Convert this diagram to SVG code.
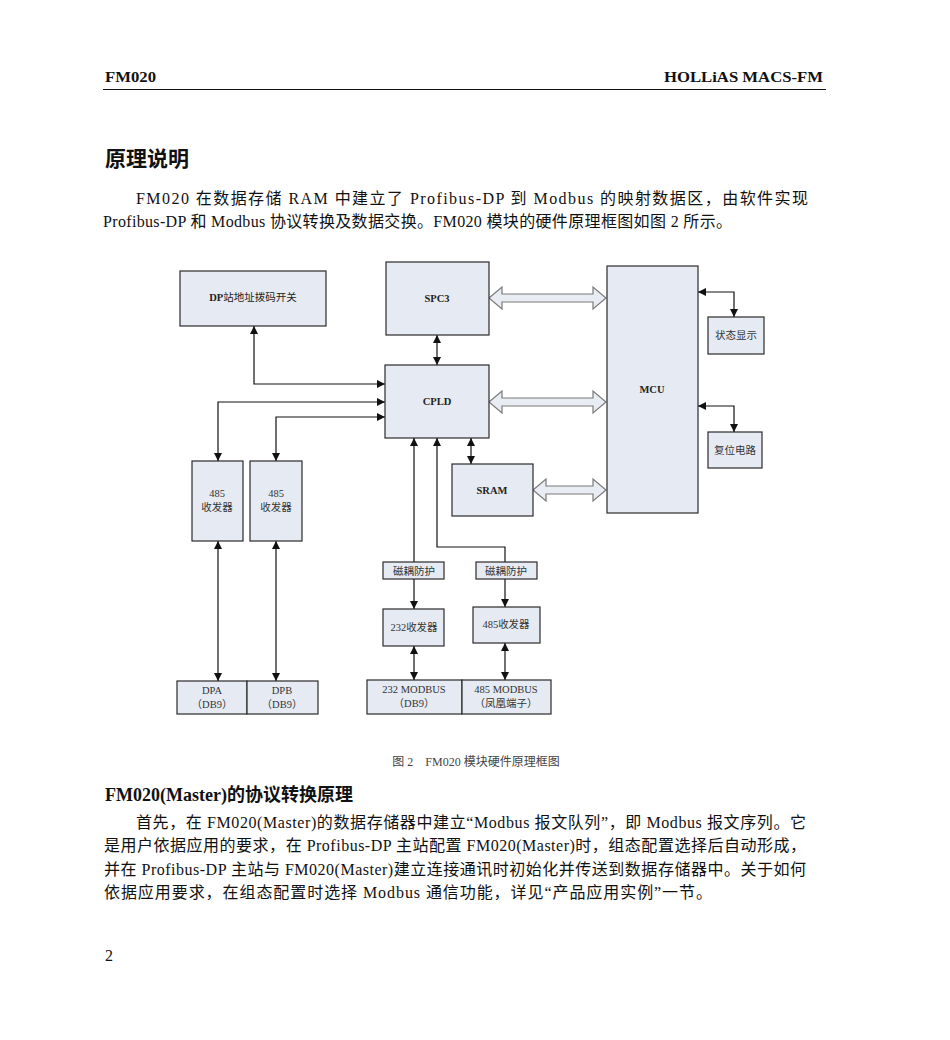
<svg xmlns="http://www.w3.org/2000/svg" width="950" height="1040" viewBox="0 0 950 1040">
<defs>
<style>
.bg{fill:#ffffff}
.box{fill:#e6ebf3;stroke:#2a2a2a;stroke-width:1.2}
.lbl{font-family:"Liberation Serif","Noto Sans CJK SC",serif;font-size:10.5px;fill:#333;text-anchor:middle}
.lblb{font-family:"Liberation Serif","Noto Sans CJK SC",serif;font-size:10.5px;fill:#222;text-anchor:middle;font-weight:bold}
.wire{fill:none;stroke:#111;stroke-width:1.2;marker-start:url(#ah);marker-end:url(#ah)}
.wire1{fill:none;stroke:#111;stroke-width:1.2}
.bus{fill:#e8ecf3;stroke:#7a7a7a;stroke-width:1.2}
.body{font-family:"Liberation Serif","Noto Sans CJK SC",serif;font-size:16px;fill:#111}
.hdr{font-family:"Liberation Serif","Noto Sans CJK SC",serif;font-size:15px;font-weight:bold;fill:#111}
.h1{font-family:"Liberation Serif","Noto Sans CJK SC",sans-serif;font-size:21px;font-weight:bold;fill:#111}
.h2{font-family:"Liberation Serif","Noto Sans CJK SC",serif;font-size:18px;font-weight:bold;fill:#111}
.cap{font-family:"Liberation Serif","Noto Sans CJK SC",serif;font-size:12px;fill:#444;text-anchor:middle}
</style>
<marker id="ah" viewBox="0 0 10 10" refX="10" refY="5" markerUnits="userSpaceOnUse" markerWidth="9" markerHeight="8" orient="auto-start-reverse">
<path d="M0,0 L10,5 L0,10 z" fill="#111"/>
</marker>
<marker id="ah1" viewBox="0 0 10 10" refX="10" refY="5" markerUnits="userSpaceOnUse" markerWidth="9" markerHeight="8" orient="auto">
<path d="M0,0 L10,5 L0,10 z" fill="#111"/>
</marker>
</defs>
<rect class="bg" x="0" y="0" width="950" height="1040"/>

<g id="page-text">
<text class="hdr" x="105" y="82" textLength="51" lengthAdjust="spacingAndGlyphs">FM020</text>
<text class="hdr" x="664" y="82" textLength="159" lengthAdjust="spacingAndGlyphs">HOLLiAS MACS-FM</text>
<line x1="103" y1="89.5" x2="826" y2="89.5" stroke="#111" stroke-width="1.2"/>
<text class="h1" x="105" y="166">原理说明</text>
<text class="body" x="136" y="204" textLength="672" lengthAdjust="spacing">FM020 在数据存储 RAM 中建立了 Profibus-DP 到 Modbus 的映射数据区，由软件实现</text>
<text class="body" x="103" y="227" textLength="629" lengthAdjust="spacing">Profibus-DP 和 Modbus 协议转换及数据交换。FM020 模块的硬件原理框图如图 2 所示。</text>
<text class="cap" x="476" y="766">图 2　FM020 模块硬件原理框图</text>
<text class="h2" x="105" y="801">FM020(Master)的协议转换原理</text>
<text class="body" x="136" y="828" textLength="670" lengthAdjust="spacing">首先，在 FM020(Master)的数据存储器中建立“Modbus 报文队列”，即 Modbus 报文序列。它</text>
<text class="body" x="104" y="851" textLength="702" lengthAdjust="spacing">是用户依据应用的要求，在 Profibus-DP 主站配置 FM020(Master)时，组态配置选择后自动形成，</text>
<text class="body" x="104" y="875" textLength="702" lengthAdjust="spacing">并在 Profibus-DP 主站与 FM020(Master)建立连接通讯时初始化并传送到数据存储器中。关于如何</text>
<text class="body" x="104" y="898" textLength="608" lengthAdjust="spacing">依据应用要求，在组态配置时选择 Modbus 通信功能，详见“产品应用实例”一节。</text>
<text class="body" x="105" y="961" font-size="13">2</text>
</g>

<g id="connectors">
<polyline class="wire" points="254,326 254,384 385,384"/>
<polyline class="wire" points="385,402 218,402 218,461"/>
<polyline class="wire" points="385,417 276,417 276,461"/>
<line class="wire" x1="437" y1="335" x2="437" y2="365"/>
<line class="wire" x1="471" y1="438" x2="471" y2="464"/>
<line class="wire1" x1="414" y1="562" x2="414" y2="438" marker-end="url(#ah1)"/>
<line class="wire1" x1="414" y1="579" x2="414" y2="609" marker-end="url(#ah1)"/>
<polyline class="wire1" points="505,562 505,547 437,547 437,438" marker-end="url(#ah1)"/>
<line class="wire1" x1="505" y1="579" x2="505" y2="607" marker-end="url(#ah1)"/>
<line class="wire" x1="414" y1="646" x2="414" y2="680"/>
<line class="wire" x1="505" y1="643" x2="505" y2="680"/>
<line class="wire" x1="218" y1="541" x2="218" y2="681"/>
<line class="wire" x1="276" y1="541" x2="276" y2="681"/>
<polyline class="wire" points="698,292 734,292 734,317"/>
<polyline class="wire" points="698,406 734,406 734,432"/>
<path class="bus" d="M489,298 L502,287 L502,294 L593,294 L593,287 L606,298 L593,309 L593,302 L502,302 L502,309 Z"/>
<path class="bus" d="M489,402 L502,391 L502,398 L593,398 L593,391 L606,402 L593,413 L593,406 L502,406 L502,413 Z"/>
<path class="bus" d="M533,490 L546,479 L546,486 L593,486 L593,479 L606,490 L593,501 L593,494 L546,494 L546,501 Z"/>
</g>

<g id="dp-switch"><rect class="box" x="180" y="271" width="146" height="55"/><text class="lblb" x="253" y="301">DP<tspan font-weight="normal">站地址拨码开关</tspan></text></g>
<g id="spc3"><rect class="box" x="386" y="262" width="103" height="73"/><text class="lblb" x="437" y="302">SPC3</text></g>
<g id="cpld"><rect class="box" x="385" y="365" width="104" height="73"/><text class="lblb" x="437" y="405">CPLD</text></g>
<g id="mcu"><rect class="box" x="607" y="266" width="91" height="247"/><text class="lblb" x="652" y="393">MCU</text></g>
<g id="status"><rect class="box" x="708" y="317" width="56" height="37"/><text class="lbl" x="736" y="339">状态显示</text></g>
<g id="reset"><rect class="box" x="708" y="432" width="54" height="36"/><text class="lbl" x="735" y="454">复位电路</text></g>
<g id="sram"><rect class="box" x="452" y="464" width="81" height="52"/><text class="lblb" x="492" y="494">SRAM</text></g>
<g id="t485a"><rect class="box" x="192" y="461" width="51" height="80"/><text class="lbl" x="217" y="497">485</text><text class="lbl" x="217" y="511">收发器</text></g>
<g id="t485b"><rect class="box" x="250" y="461" width="52" height="80"/><text class="lbl" x="276" y="497">485</text><text class="lbl" x="276" y="511">收发器</text></g>
<g id="iso1"><rect class="box" x="383" y="562" width="61" height="17"/><text class="lbl" x="414" y="574.5">磁耦防护</text></g>
<g id="iso2"><rect class="box" x="476" y="562" width="61" height="17"/><text class="lbl" x="506" y="574.5">磁耦防护</text></g>
<g id="t232"><rect class="box" x="383" y="609" width="61" height="37"/><text class="lbl" x="414" y="631">232收发器</text></g>
<g id="t485c"><rect class="box" x="473" y="607" width="67" height="36"/><text class="lbl" x="506" y="628">485收发器</text></g>
<g id="dpa"><rect class="box" x="177" y="681" width="70" height="33"/><text class="lbl" x="212" y="694">DPA</text><text class="lbl" x="212" y="708">（DB9）</text></g>
<g id="dpb"><rect class="box" x="247" y="681" width="71" height="33"/><text class="lbl" x="282" y="694">DPB</text><text class="lbl" x="282" y="708">（DB9）</text></g>
<g id="m232"><rect class="box" x="367" y="680" width="95" height="34"/><text class="lbl" x="414" y="693">232 MODBUS</text><text class="lbl" x="414" y="707">（DB9）</text></g>
<g id="m485"><rect class="box" x="462" y="680" width="89" height="34"/><text class="lbl" x="506" y="693">485 MODBUS</text><text class="lbl" x="506" y="707">（凤凰端子）</text></g>
</svg>
